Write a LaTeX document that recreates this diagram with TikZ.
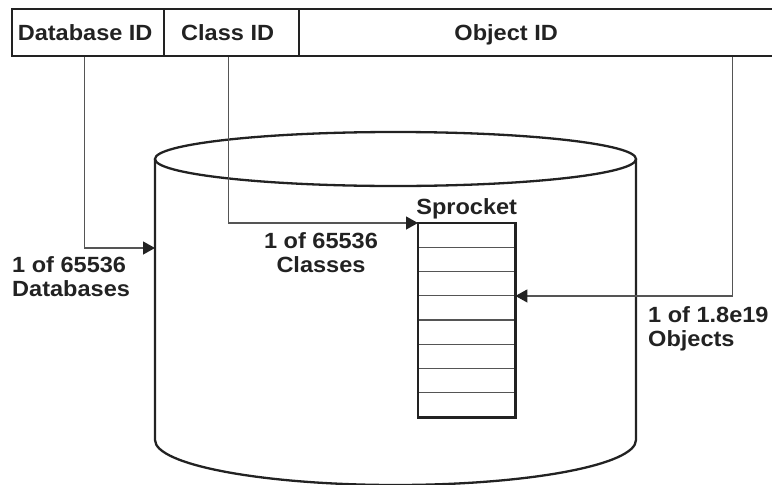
\documentclass[tikz,border=0pt]{standalone}
\usepackage{fontspec}
\setmainfont{Liberation Sans}[FakeStretch=1.07]
\usetikzlibrary{arrows.meta,calc}
\definecolor{ink}{HTML}{222222}
\definecolor{wire}{HTML}{555555}
\begin{document}
\begin{tikzpicture}[x=1pt,y=1pt,
  lbl/.style={font=\fontsize{22}{24}\selectfont\bfseries, text=ink, inner sep=0pt},
  headtext/.style={lbl, text height=16pt, text depth=0pt},
  field/.style={draw=ink, line width=2.3pt, minimum height=47pt, inner sep=0pt, anchor=north west},
  outline/.style={draw=ink, line width=2.3pt},
  rowline/.style={draw=wire, line width=1.2pt},
  conn/.style={draw=wire, line width=1.3pt, -{Triangle[length=12pt,width=13pt,color=ink]}}]
\useasboundingbox (0,0) rectangle (772,-485);

% identifier fields along the top
\node[field, minimum width=152pt, label={[headtext,xshift=-3pt]center:Database ID}] (dbid) at (11,-8) {};
\node[field, minimum width=135pt, label={[headtext,xshift=-4pt]center:Class ID}] (clsid) at (163,-8) {};
\node[field, minimum width=500pt, label={[headtext,xshift=-43pt]center:Object ID}] (objid) at (298,-8) {};

% database cylinder
\coordinate (cylTL) at (155,-159);
\coordinate (cylTR) at (636,-159);
\coordinate (cylBL) at (155,-440);
\coordinate (dbhit) at (155,-248);
\draw[outline] (395.5,-159) ellipse [x radius=240.5, y radius=27];
\draw[outline] (cylTL) -- (cylBL) arc[start angle=180, end angle=360, x radius=240.5, y radius=45] -- (cylTR);

% the Sprocket class table
\node[minimum width=97pt, minimum height=194pt, anchor=north west, inner sep=0pt] (sprocket) at (418,-223) {};
\foreach \k in {1,...,7}
  \draw[rowline] ([yshift=-\k*24.25pt]sprocket.north west) -- ([yshift=-\k*24.25pt]sprocket.north east);
\draw[outline] (sprocket.north west) rectangle (sprocket.south east);
\node[lbl, anchor=base] (sprtitle) at ([yshift=9pt]sprocket.north) {Sprocket};

% connectors from the fields
\draw[conn] ([xshift=-4pt]dbid.south) |- (dbhit);
\draw[conn] ([xshift=-3.5pt]clsid.south) |- (sprocket.north west);
\draw[conn] ([xshift=183pt]objid.south) |- ([yshift=24.25pt]sprocket.east);

% range labels
\node[lbl, align=left, anchor=north west] (dblabel) at (12,-256) {1 of 65536\\Databases};
\node[lbl, align=center, anchor=north] (clslabel) at (321,-232) {1 of 65536\\Classes};
\node[lbl, align=left, anchor=north west] (objlabel) at (648,-306) {1 of 1.8e19\\Objects};
\end{tikzpicture}
\end{document}
